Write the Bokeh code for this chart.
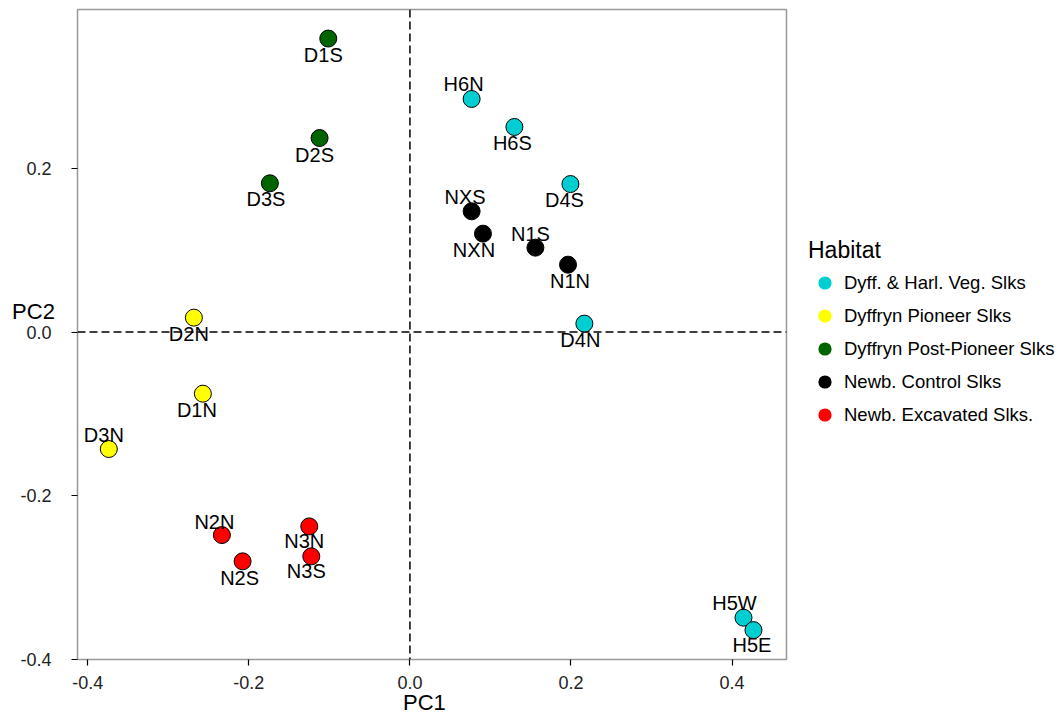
from bokeh.plotting import figure
from bokeh.models import (ColumnDataSource, Span, Label, Legend, LegendItem,
                          Range1d, FixedTicker, PrintfTickFormatter)
from bokeh.embed import file_html
from bokeh.resources import INLINE
from bokeh.core.properties import value

# ---- data ----
sites = ["D1S", "D2S", "D3S", "D2N", "D1N", "D3N", "N2N", "N2S", "N3N", "N3S",
         "H6N", "H6S", "D4S", "NXS", "NXN", "N1S", "N1N", "D4N", "H5W", "H5E"]
pc1 = [-0.1014, -0.1122, -0.1739, -0.2683, -0.2571, -0.3739, -0.2335, -0.2078, -0.1250, -0.1225,
       0.0766, 0.1297, 0.1993, 0.0766, 0.0907, 0.1558, 0.1963, 0.2166, 0.4142, 0.4266]
pc2 = [0.3585, 0.2370, 0.1817, 0.0176, -0.0753, -0.1429, -0.2480, -0.2801, -0.2374, -0.2740,
       0.2847, 0.2505, 0.1808, 0.1475, 0.1202, 0.1031, 0.0823, 0.0103, -0.3489, -0.3641]
habitat = ["Dyffryn Post-Pioneer Slks"] * 3 + ["Dyffryn Pioneer Slks"] * 3 + \
          ["Newb. Excavated Slks."] * 4 + ["Dyff. & Harl. Veg. Slks"] * 3 + \
          ["Newb. Control Slks"] * 4 + ["Dyff. & Harl. Veg. Slks"] * 3

categories = ["Dyff. & Harl. Veg. Slks", "Dyffryn Pioneer Slks", "Dyffryn Post-Pioneer Slks",
              "Newb. Control Slks", "Newb. Excavated Slks."]
palette = ["#00CED1", "#FFFF00", "#006400", "#000000", "#FF0000"]

x_ticks = [-0.4, -0.2, 0.0, 0.2, 0.4]
y_ticks = [-0.4, -0.2, 0.0, 0.2]

# label placement (screen-pixel nudges, like a repel layout)
label_dx = [-5, -5, -4, -5, -6, -5, -7.5, -3, -5, -5, -8, -2, -6, -6.5, -9, -5, 2, -4, -9, -1.5]
label_dy = [16, 16.7, 16, 16, 16, -14, -13, 16.7, 15, 15, -14.7, 16, 16, -14.3, 16.3, -14, 16.7, 16.7, -14.6, 15.3]

cmap = dict(zip(categories, palette))
src = ColumnDataSource(dict(x=pc1, y=pc2, site=sites, hab=habitat,
                            color=[cmap[h] for h in habitat],
                            dx=label_dx, dy=label_dy))

FONT = "Liberation Sans"
X0, X1 = -0.4128, 0.4676
Y0, Y1 = -0.4, 0.394

p = figure(frame_width=709, frame_height=650,
           x_range=Range1d(X0, X1), y_range=Range1d(Y0, Y1),
           output_backend="svg", toolbar_location=None,
           min_border_left=77, min_border_top=9, min_border_bottom=0, min_border_right=0,
           background_fill_color="white", border_fill_color="white")

p.grid.visible = False
p.outline_line_color = "#999999"
p.outline_line_width = 1.5

for ax in (p.xaxis[0], p.yaxis[0]):
    ax.axis_line_color = None
    ax.major_tick_line_color = "black"
    ax.major_tick_line_width = 1.2
    ax.major_tick_out = 6
    ax.major_tick_in = 0
    ax.minor_tick_line_color = None
    ax.major_label_text_font = FONT
    ax.major_label_text_font_size = "18px"
    ax.major_label_text_color = "#222222"
    ax.formatter = PrintfTickFormatter(format="%.1f")

p.xaxis[0].ticker = FixedTicker(ticks=x_ticks)
p.yaxis[0].ticker = FixedTicker(ticks=y_ticks)
p.xaxis[0].major_label_standoff = 10
p.yaxis[0].major_label_standoff = 20

# reference lines
p.add_layout(Span(location=0, dimension="height", line_color="black", line_width=1.5,
                  line_dash="8 4", level="underlay"))
p.add_layout(Span(location=0, dimension="width", line_color="black", line_width=1.5,
                  line_dash="8 4", level="underlay"))

# points
p.scatter("x", "y", source=src, size=17, fill_color="color", line_color="black", line_width=1)

# point labels
p.text("x", "y", text="site", source=src, x_offset="dx", y_offset="dy",
       text_align="center", text_baseline="middle",
       text_font=value(FONT), text_font_size="20px", text_color="black")

nan = float("nan")

# legend (stand-in renderers without outline)
items = []
for cat, col in zip(categories, palette):
    r = p.scatter(x=[nan], y=[nan], size=16, fill_color=col, line_color=None)
    items.append(LegendItem(label=cat, renderers=[r]))

legend = Legend(items=items, title="Habitat", location="left",
                title_text_font=FONT, title_text_font_size="23px",
                title_text_font_style="normal", title_text_color="black",
                label_text_font=FONT, label_text_font_size="18.5px", label_text_color="black",
                glyph_width=33, glyph_height=33, spacing=0, label_standoff=3,
                padding=3, margin=22, title_standoff=2,
                border_line_color=None, background_fill_color=None)
p.add_layout(legend, "right")

# axis titles (side-panel annotations are not clipped to the frame);
# anchored in data space relative to the frame edges
p.add_layout(Label(x=X0, y=0.0, x_offset=-44, y_offset=21, text="PC2",
                   text_align="center", text_baseline="middle", text_font=FONT,
                   text_font_size="22px", text_color="black"), "right")
p.add_layout(Label(x=0.018, y=Y0, y_offset=-43, text="PC1",
                   text_align="center", text_baseline="middle", text_font=FONT,
                   text_font_size="22px", text_color="black"), "below")

open("out.html", "w").write(file_html(p, INLINE))
